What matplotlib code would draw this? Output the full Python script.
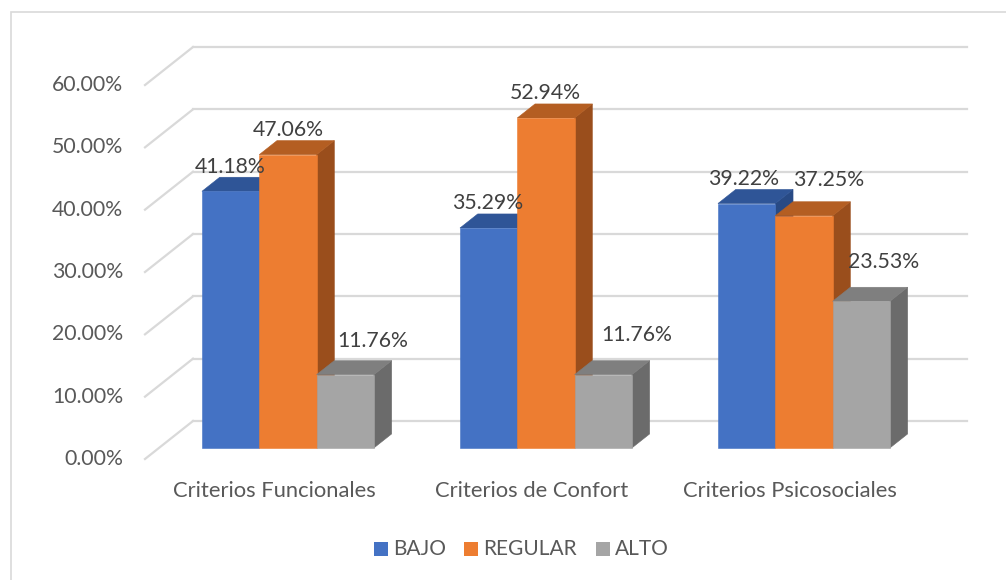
import matplotlib.pyplot as plt
from matplotlib.patches import Polygon, Rectangle

categorias = ['Criterios Funcionales', 'Criterios de Confort', 'Criterios Psicosociales']
series = ['BAJO', 'REGULAR', 'ALTO']
bajo = [41.18, 35.29, 39.22]
regular = [47.06, 52.94, 37.25]
alto = [11.76, 11.76, 23.53]
ticks_y = [0, 10, 20, 30, 40, 50, 60]

valores = [bajo, regular, alto]
# front / top / side shades for each series
colores = [('#4472C4', '#2F5597', '#284A85'),
           ('#ED7D31', '#B45E22', '#9A4E1C'),
           ('#A5A5A5', '#7F7F7F', '#6B6B6B')]
# nudges (px) for each data label, by series then category
nudge = [[(0, -10), (-1, -11), (-3, -10)],
         [(0, -11), (-1, -11), (25, -22)],
         [(27, -20), (33, -26), (22, -25)]]

W, H = 1006, 580
plt.rcParams['font.family'] = ['Lato', 'DejaVu Sans']
fig = plt.figure(figsize=(W / 100, H / 100), dpi=100)
ax = fig.add_axes([0, 0, 1, 1])

# scale: px per category and px per percent
sx = 258.0
sy = 6.233
x0_px, y0_px = 145, 459
xmin = -0.5 - x0_px / sx
ymin = -(H - y0_px) / sy
ax.set_xlim(xmin, xmin + W / sx)
ax.set_ylim(ymin, ymin + H / sy)
ax.axis('off')

# depth of the floor in data units
DX = 48 / sx
DY = 38 / sy
n = len(categorias)
grid_c = '#D9D9D9'

for t in ticks_y:
    ax.plot([-0.5, -0.5 + DX], [t, t + DY], color=grid_c, lw=1.6, zorder=1)
    ax.plot([-0.5 + DX, n - 0.5 + DX], [t + DY, t + DY], color=grid_c, lw=1.6, zorder=1)
    ax.text(-0.5 - 22 / sx, t, f'{t:.2f}%', ha='right', va='center',
            fontsize=15.3, color='#595959')

bw = 57.3 / sx
d0, d1 = 0.29, 0.66   # bar depth range along the floor
for i in range(n):
    for s in range(len(series)):
        v = valores[s][i]
        left = i - 1.5 * bw + s * bw + d0 * DX
        right = left + bw
        base = d0 * DY
        ddx = (d1 - d0) * DX
        ddy = (d1 - d0) * DY
        fc, tc, sc = colores[s]
        front = [(left, base), (right, base), (right, base + v), (left, base + v)]
        top = [(left, base + v), (right, base + v), (right + ddx, base + v + ddy),
               (left + ddx, base + v + ddy)]
        side = [(right, base), (right + ddx, base + ddy), (right + ddx, base + v + ddy),
                (right, base + v)]
        z = 2 + i * 3 + s
        for pts, c in ((side, sc), (top, tc), (front, fc)):
            ax.add_patch(Polygon(pts, closed=True, facecolor=c, edgecolor=c,
                                 lw=0.4, zorder=z))
        nx, ny = nudge[s][i]
        ax.annotate(f'{v:.2f}%', ((left + right) / 2, base + v + ddy),
                    xytext=(nx * 0.72, -ny * 0.72), textcoords='offset points',
                    ha='center', va='center', fontsize=15.3, color='#404040', zorder=20)

for i, cat in enumerate(categorias):
    ax.text(i, -32 / sy, cat, ha='center', va='center', fontsize=15.8, color='#595959')

# legend row
leg_x = [374, 464, 596]
for s, name in enumerate(series):
    fig.add_artist(Rectangle((leg_x[s] / W, 1 - 556 / H), 14 / W, 14 / H,
                             transform=fig.transFigure, facecolor=colores[s][0],
                             edgecolor='none'))
    fig.text((leg_x[s] + 19) / W, 1 - 549 / H, name, ha='left', va='center',
             fontsize=15, color='#595959')

# chart area border (runs off the right and bottom)
fig.add_artist(Rectangle((11 / W, -0.1), 1.2, 1.1 - 12 / H, transform=fig.transFigure,
                         facecolor='none', edgecolor='#D9D9D9', lw=1.2))

fig.savefig('out.png', dpi=100)
